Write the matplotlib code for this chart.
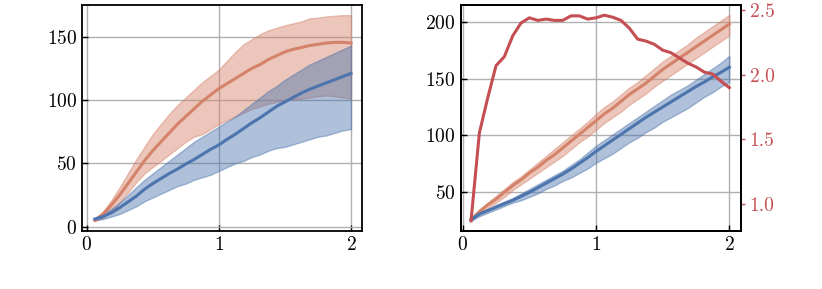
import numpy as np
import matplotlib
matplotlib.use("Agg")
import matplotlib.pyplot as plt

plt.rcParams['font.family'] = 'serif'
plt.rcParams['font.serif'] = ['cmr10']
plt.rcParams['mathtext.fontset'] = 'cm'
plt.rcParams['axes.formatter.use_mathtext'] = True

x = np.arange(1, 33) / 16.0

# Left panel
left_orange_mean = [5, 10, 17, 25, 34, 43, 52, 60, 67, 74, 81, 87, 93, 99, 104, 109,
                    113, 117, 121, 125, 128, 132, 135, 138, 140, 141.5, 143, 144, 145, 145.5, 145.5, 145]
left_orange_upper = [6, 12, 21, 31, 42, 53, 63, 73, 81, 89, 96, 102, 108, 114, 119, 124,
                     131, 138, 144, 148, 152, 155, 157, 159, 160.5, 162, 164.5, 165, 166, 166.5, 167, 167]
left_orange_lower = [4.5, 7, 12, 19, 27, 35, 42, 47, 52, 57, 62, 67, 71, 73, 77, 81,
                     84, 87, 90, 93, 95, 97, 98.5, 100, 100.5, 101, 102, 103, 103.5, 103, 102, 101]
left_blue_mean = [6, 8, 11, 15, 19.5, 24, 29.5, 34, 38, 42, 45.5, 49.5, 53, 57, 61, 64.5,
                  69, 73, 77.5, 82, 86, 90.5, 95, 98.5, 102, 105.5, 108.5, 111, 113.5, 116, 118.5, 121]
left_blue_upper = [6.5, 10, 14, 19, 25, 31, 37, 42, 47, 52, 57, 62, 67, 71, 75, 79,
                   83, 87, 92, 97, 102, 107, 111, 116, 120, 124, 128, 131, 134, 137, 140, 143]
left_blue_lower = [5, 6, 8, 10, 13, 16, 20, 23, 26, 29, 32, 34, 37, 39, 41, 44,
                   47, 50, 52, 55, 57, 60, 62, 63, 65, 67, 69, 71, 72, 74, 76, 77]

# Right panel
right_orange_mean = [26, 33, 39, 44, 50, 56, 61, 67, 72, 78, 83, 89, 95, 101, 107, 113,
                     119, 124, 130, 136, 141, 146, 152, 158, 163, 168, 173, 178, 183, 188, 193, 198]
right_orange_upper = [27, 35, 41, 47, 53, 59, 64, 70, 76, 82, 88, 94, 100, 106, 112, 119,
                      125, 130, 136, 142, 147, 153, 159, 165, 170, 175, 180, 186, 191, 196, 201, 206]
right_orange_lower = [25, 31, 36, 41, 46, 52, 57, 62, 67, 72, 77, 82, 88, 94, 99, 105,
                      111, 116, 121, 127, 132, 137, 143, 148, 153, 158, 163, 168, 173, 178, 183, 188]
right_blue_mean = [26, 31, 34, 37, 40, 43, 46.5, 50, 54, 58, 62, 66, 70.5, 75.5, 80.5, 86,
                   91, 96, 101, 106, 111, 116, 120.5, 125, 129.5, 134, 138.5, 143, 147, 151.5, 155.5, 160]
right_blue_upper = [27, 32, 35, 39, 42, 45, 49, 53, 57, 61, 65, 69, 74, 79, 85, 91,
                    96, 101, 106, 111, 116, 121, 126, 131, 136, 140, 144, 149, 154, 159, 164, 170]
right_blue_lower = [25, 29, 32, 35, 38, 41, 43, 46, 49, 53, 56, 60, 63, 67, 71, 76,
                    80, 84, 89, 94, 98, 103, 107, 112, 116, 120, 124, 129, 134, 138, 143, 147]
right_red = [0.87, 1.55, 1.82, 2.07, 2.14, 2.30, 2.40, 2.44, 2.42, 2.43, 2.42, 2.42, 2.455, 2.455, 2.43, 2.44,
             2.46, 2.445, 2.42, 2.36, 2.275, 2.26, 2.235, 2.19, 2.17, 2.13, 2.09, 2.06, 2.02, 2.005, 1.95, 1.90]

BLUE = '#4c74ad'
ORANGE = '#d5826a'
RED = '#c44e52'
GRID = '#b0b0b0'

fig = plt.figure(figsize=(8.22, 2.89), dpi=100)
ax1 = fig.add_axes([82/822, 1-230.7/289, 280/822, 225.7/289])
ax2 = fig.add_axes([460.5/822, 1-230.7/289, 280/822, 225.7/289])

def style(ax):
    ax.grid(True, color=GRID, linewidth=1.0)
    ax.set_axisbelow(True)
    for s in ax.spines.values():
        s.set_linewidth(1.3)
        s.set_color('black')
    ax.tick_params(direction='in', length=4, width=1.0, labelsize=14, top=False, right=False)

ax1.fill_between(x, left_orange_lower, left_orange_upper, color=ORANGE, alpha=0.45, linewidth=1)
ax1.fill_between(x, left_blue_lower, left_blue_upper, color=BLUE, alpha=0.45, linewidth=1)
ax1.plot(x, left_orange_mean, color=ORANGE, linewidth=2.2)
ax1.plot(x, left_blue_mean, color=BLUE, linewidth=2.2)
ax1.set_xlim(-0.035, 2.083)
ax1.set_ylim(-3.2, 175)
ax1.set_xticks([0, 1, 2])
ax1.set_yticks([0, 50, 100, 150])
style(ax1)

ax2.fill_between(x, right_orange_lower, right_orange_upper, color=ORANGE, alpha=0.45, linewidth=1)
ax2.fill_between(x, right_blue_lower, right_blue_upper, color=BLUE, alpha=0.45, linewidth=1)
ax2.plot(x, right_orange_mean, color=ORANGE, linewidth=2.2)
ax2.plot(x, right_blue_mean, color=BLUE, linewidth=2.2)
ax2.set_xlim(-0.0165, 2.084)
ax2.set_ylim(16.3, 214.7)
ax2.set_xticks([0, 1, 2])
ax2.set_yticks([50, 100, 150, 200])
style(ax2)

ax3 = ax2.twinx()
ax3.plot(x, right_red, color=RED, linewidth=2.2)
ax3.set_ylim(0.794, 2.539)
ax3.set_yticks([1.0, 1.5, 2.0, 2.5])
ax3.set_yticklabels(['1.0', '1.5', '2.0', '2.5'])
ax3.tick_params(axis='y', direction='out', length=3, width=1.0, colors=RED, labelsize=14)
for s in ax3.spines.values():
    s.set_linewidth(1.3)
    s.set_color('black')

fig.savefig('out.png', dpi=100)
